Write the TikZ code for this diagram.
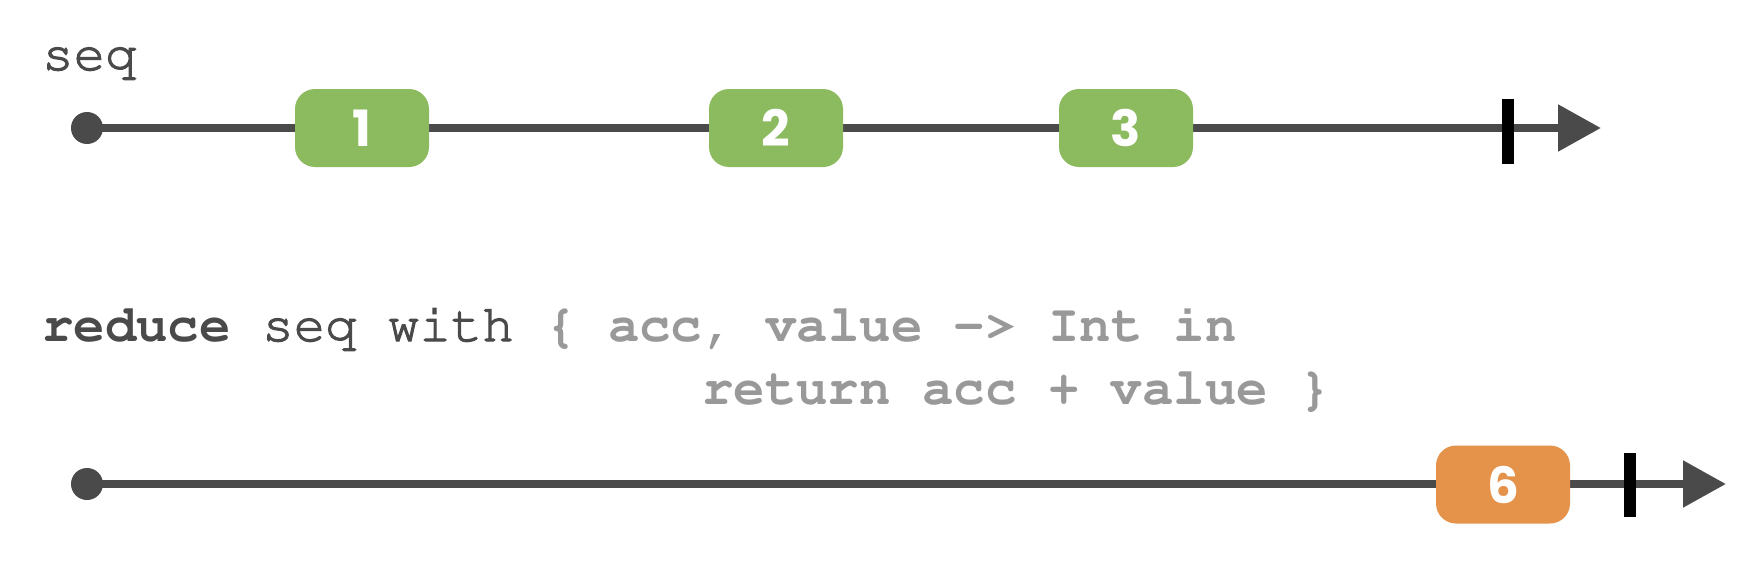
\documentclass[tikz,border=0pt]{standalone}
\usepackage[T1]{fontenc}
\usepackage{fontspec}
\usetikzlibrary{arrows.meta}
\newfontfamily\numfont{Poppins}
\newcommand\courfont{\fontencoding{T1}\fontfamily{pcr}\fontsize{52.4}{62}\selectfont}
\newcommand\thicktext[1]{\special{pdf:code 2 Tr 1.1 w}#1\special{pdf:code 0 Tr}}
\definecolor{linegray}{HTML}{4A4A4A}
\definecolor{codegray}{HTML}{999999}
\definecolor{boxgreen}{HTML}{8BBA5F}
\definecolor{boxorange}{HTML}{E5924A}
\tikzset{
  timeline/.style={draw=linegray, line width=8.5pt, -{Triangle[length=43pt,width=45pt]}},
  startdot/.style={circle, fill=linegray, minimum size=32pt, inner sep=0pt},
  marble/.style={rounded corners=20pt, minimum width=134pt, minimum height=78pt, inner sep=0pt,
    text=white, font=\numfont\bfseries\fontsize{50}{50}\selectfont},
  greenmarble/.style={marble, fill=boxgreen},
  orangemarble/.style={marble, fill=boxorange},
  endtick/.style={draw=black, line width=12pt},
  codetext/.style={anchor=base west, inner sep=0pt, text=linegray, font=\courfont},
}
\begin{document}
\begin{tikzpicture}[x=1pt,y=-1pt]
\useasboundingbox[fill=white] (0,0) rectangle (1762,570);
% top timeline
\node[codetext] (lbl) at (42,70) {\thicktext{seq}};
\coordinate (s1) at (87,128);
\coordinate (e1) at (1601,128);
\draw[timeline] (s1) -- (e1);
\node[startdot] (d1) at (s1) {};
\coordinate (t1a) at (1508,99);
\coordinate (t1b) at (1508,164);
\draw[endtick] (t1a) -- (t1b);
\node[greenmarble] (m1) at (362,128) {1};
\node[greenmarble] (m2) at (776,128) {2};
\node[greenmarble] (m3) at (1126,128) {3};
% code
\node[codetext] (code1) at (42,341) {\textbf{reduce} \thicktext{seq with} \textcolor{codegray}{\textbf{\{ acc, value -> Int in}}};
\node[codetext, text=codegray] (code2) at (702,404) {\textbf{return acc + value \}}};
% bottom timeline
\coordinate (s2) at (87,484);
\coordinate (e2) at (1726,484);
\draw[timeline] (s2) -- (e2);
\node[startdot] (d2) at (s2) {};
\coordinate (t2a) at (1630,453);
\coordinate (t2b) at (1630,517);
\draw[endtick] (t2a) -- (t2b);
\node[orangemarble] (m6) at (1503,484.5) {6};
\end{tikzpicture}
\end{document}
